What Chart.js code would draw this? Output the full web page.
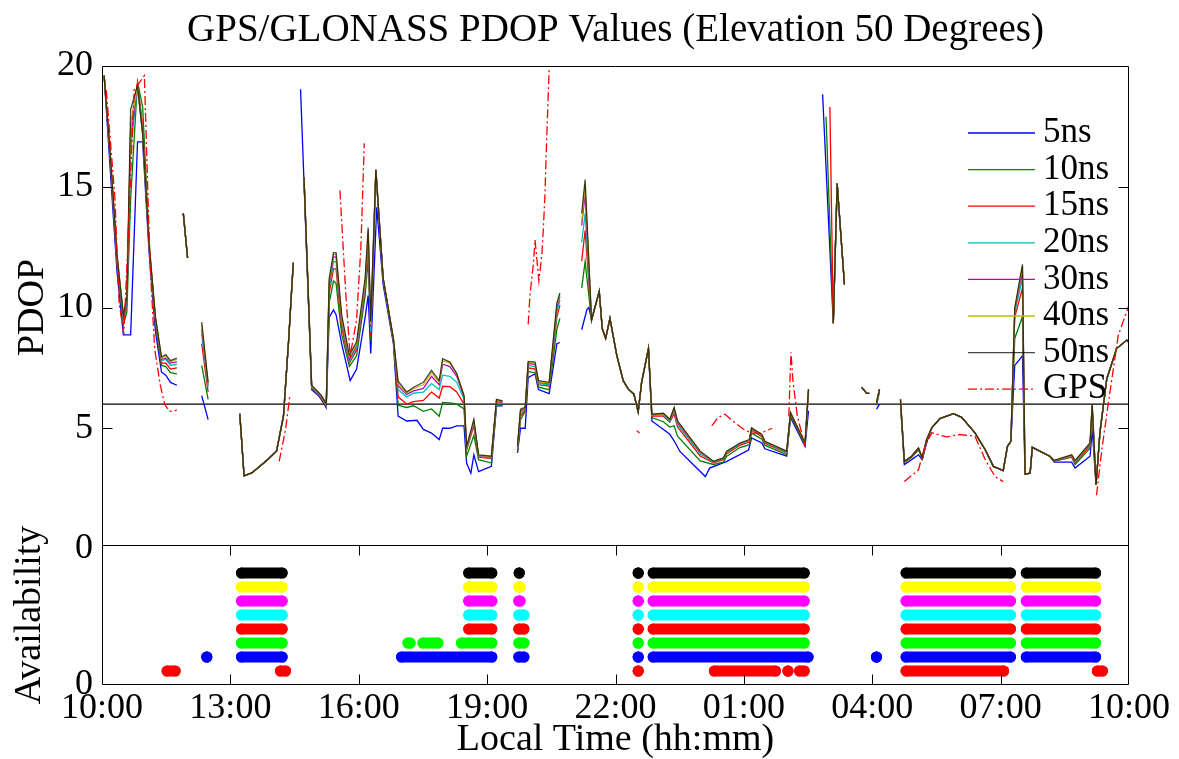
<!DOCTYPE html>
<html>
<head>
<meta charset="utf-8">
<script src="https://cdn.jsdelivr.net/npm/chart.js@4.4.1/dist/chart.umd.min.js"></script>
<style>
  html, body { margin: 0; padding: 0; background: #fff; }
  #wrap { position: relative; width: 1179px; height: 759px; }
  canvas { position: absolute; left: 0; top: 0; }
</style>
</head>
<body>
<div id="wrap">
  <canvas id="pdop" width="1179" height="759"></canvas>
  <canvas id="avail" width="1179" height="759"></canvas>
</div>
<script>
// x = heures depuis 10:00 (0..24)
const timeLabels = ['10:00', '13:00', '16:00', '19:00', '22:00', '01:00', '04:00', '07:00', '10:00'];
const seriesNames = ['5ns', '10ns', '15ns', '20ns', '30ns', '40ns', '50ns', 'GPS'];
const lineColors = ['#0000ff', '#008000', '#ff0000', '#00bfbf', '#bf00bf', '#bfbf00', 'rgba(0,0,0,0.72)', '#ff0000'];
const threshold = [[0, 6], [24, 6]];

// --- PDOP : morceaux de courbes ---
const X1 = [0.05, 0.2, 0.35, 0.5, 0.58, 0.67, 0.83, 0.95, 1.1, 1.25, 1.39, 1.49, 1.6, 1.75];
const y1_50 = [19.6, 16.2, 12.2, 9.7, 10.4, 18.2, 19.2, 17.2, 12.6, 9.6, 7.95, 8.05, 7.8, 7.9];
const y1_40 = [19.6, 16.2, 12.2, 9.7, 10.4, 17.5, 19.2, 17.2, 12.6, 9.6, 7.9, 8.0, 7.75, 7.85];
const y1_30 = [19.6, 16.1, 12.1, 9.6, 10.3, 17.0, 19.2, 17.2, 12.5, 9.5, 7.85, 7.9, 7.7, 7.75];
const y1_20 = [19.6, 16.1, 12.0, 9.5, 10.2, 16.5, 19.2, 17.2, 12.5, 9.5, 7.8, 7.85, 7.6, 7.65];
const y1_15 = [19.6, 16.0, 11.9, 9.4, 10.1, 17.5, 19.3, 17.5, 12.5, 9.4, 7.7, 7.7, 7.45, 7.5];
const y1_10 = [19.6, 16.0, 11.8, 9.3, 9.8, 14.5, 19.35, 18.3, 12.8, 9.3, 7.6, 7.55, 7.3, 7.25];
const y1_5 = [19.6, 15.5, 11.5, 8.87, 8.87, 8.87, 16.86, 16.86, 12.3, 9.0, 7.33, 7.2, 6.9, 6.78];

const segB = [[1.9, 13.9], [2.0, 12.05]];

const X3 = [2.33, 2.48];
const y3_50 = [9.4, 6.9], y3_40 = [9.3, 6.85], y3_30 = [9.1, 6.8], y3_20 = [8.9, 6.7];
const y3_15 = [8.5, 6.5], y3_10 = [7.6, 6.2], y3_5 = [6.35, 5.36];

const segD = [[3.22, 5.6], [3.32, 3.03], [3.5, 3.15], [3.69, 3.43], [3.9, 3.75], [4.08, 4.06], [4.24, 5.5], [4.36, 8.6], [4.47, 11.85]];

const X5 = [4.72, 4.9, 5.06, 5.15, 5.24, 5.31, 5.41, 5.47, 5.6, 5.78, 5.95, 6.15, 6.22, 6.28, 6.4, 6.57, 6.81, 6.92, 7.12, 7.28, 7.51, 7.7, 7.88, 7.96, 8.13, 8.29, 8.46, 8.52, 8.69, 8.8, 9.1, 9.22, 9.36];
const y5_50 = [15.4, 6.77, 6.49, 6.3, 6.0, 11.2, 12.27, 12.27, 9.7, 8.03, 8.58, 11.23, 13.3, 9.4, 15.7, 11.23, 8.7, 6.95, 6.5, 6.7, 6.9, 7.4, 6.97, 7.88, 7.74, 7.27, 6.35, 4.25, 5.37, 3.9, 3.84, 6.2, 6.13];
const y5_40 = [15.4, 6.75, 6.47, 6.28, 5.98, 11.1, 12.2, 12.2, 9.6, 7.95, 8.5, 11.1, 13.2, 9.3, 15.7, 11.2, 8.7, 6.85, 6.45, 6.65, 6.8, 7.3, 6.9, 7.8, 7.7, 7.25, 6.35, 4.22, 5.3, 3.88, 3.82, 6.18, 6.11];
const y5_30 = [15.4, 6.73, 6.45, 6.26, 5.96, 11.0, 12.1, 12.1, 9.5, 7.85, 8.45, 11.0, 13.0, 9.2, 15.7, 11.2, 8.68, 6.75, 6.4, 6.55, 6.65, 7.15, 6.8, 7.65, 7.55, 7.15, 6.3, 4.2, 5.25, 3.86, 3.8, 6.16, 6.1];
const y5_20 = [15.4, 6.7, 6.43, 6.24, 5.94, 10.8, 11.9, 11.9, 9.4, 7.75, 8.35, 10.9, 12.8, 9.0, 15.7, 11.2, 8.66, 6.6, 6.3, 6.45, 6.5, 6.85, 6.6, 7.2, 7.15, 6.9, 6.2, 4.15, 5.2, 3.83, 3.78, 6.14, 6.08];
const y5_15 = [15.4, 6.68, 6.4, 6.2, 5.92, 10.6, 11.6, 11.6, 9.2, 7.7, 8.25, 10.8, 12.6, 8.8, 15.7, 11.2, 8.64, 6.3, 6.0, 6.1, 6.15, 6.5, 6.25, 6.74, 6.72, 6.5, 6.0, 4.1, 5.1, 3.8, 3.75, 6.1, 6.05];
const y5_10 = [15.4, 6.65, 6.37, 6.17, 5.9, 10.2, 11.1, 11.0, 8.9, 7.56, 8.0, 10.5, 12.0, 8.6, 15.6, 11.15, 8.6, 5.95, 5.86, 5.93, 5.7, 5.8, 5.5, 6.07, 6.05, 6.0, 5.8, 3.84, 4.7, 3.7, 3.56, 6.0, 5.95];
const seg5_5 = [[4.64, 19.04], [4.9, 6.6], [5.06, 6.35], [5.15, 6.12], [5.24, 5.85], [5.31, 9.6], [5.41, 9.9], [5.47, 9.7], [5.6, 8.5], [5.8, 6.97], [5.95, 7.45], [6.15, 9.6], [6.22, 10.5], [6.28, 8.1], [6.42, 14.15], [6.57, 10.96], [6.81, 8.5], [6.92, 5.5], [7.12, 5.3], [7.36, 5.33], [7.51, 4.95], [7.7, 4.8], [7.88, 4.53], [7.96, 5.0], [8.13, 5.0], [8.29, 5.1], [8.46, 5.1], [8.52, 3.56], [8.62, 3.14], [8.69, 3.9], [8.8, 3.2], [9.1, 3.42], [9.22, 5.93], [9.36, 5.93]];

const X7 = [9.71, 9.78, 9.89, 9.96, 10.12, 10.2, 10.45, 10.63, 10.7];
const y7_50 = [4.27, 5.79, 5.86, 7.77, 7.74, 6.97, 6.9, 10.18, 10.6];
const y7_40 = [4.25, 5.75, 5.85, 7.72, 7.7, 6.93, 6.87, 10.1, 10.55];
const y7_30 = [4.2, 5.7, 5.83, 7.68, 7.65, 6.9, 6.84, 10.0, 10.45];
const y7_20 = [4.15, 5.6, 5.8, 7.6, 7.55, 6.85, 6.8, 9.8, 10.3];
const y7_15 = [4.1, 5.5, 5.75, 7.5, 7.45, 6.8, 6.75, 9.6, 10.1];
const y7_10 = [4.05, 5.35, 5.7, 7.35, 7.3, 6.7, 6.6, 9.1, 9.55];
const y7_5 = [3.98, 5.0, 5.0, 7.11, 7.25, 6.6, 6.43, 8.5, 8.55];

const X8h = [11.21, 11.29];
const y8h_50 = [13.9, 15.3], y8h_40 = [13.6, 15.1], y8h_30 = [13.4, 14.7], y8h_20 = [12.7, 13.9];
const y8h_15 = [11.92, 13.2], y8h_10 = [10.8, 11.9];
const seg8h_5 = [[11.21, 9.08], [11.33, 9.9], [11.38, 10.0]];
const X8c = [11.44, 11.62, 11.69, 11.77, 11.87, 12.03, 12.18, 12.3, 12.43, 12.53, 12.61, 12.77];
const y8c = [9.48, 10.67, 9.13, 8.72, 9.55, 8.02, 6.97, 6.62, 6.41, 5.68, 6.9, 8.3];
const X8t = [12.85, 13.12, 13.27, 13.37, 13.45, 13.98, 14.29, 14.52, 14.6, 14.91, 15.13, 15.18, 15.42, 15.49, 16.0, 16.09, 16.43, 16.51];
const y8t_50 = [5.58, 5.62, 5.37, 5.86, 5.3, 4.05, 3.63, 3.77, 4.05, 4.39, 4.53, 5.02, 4.74, 4.46, 4.05, 5.65, 4.39, 6.62];
const y8t_40 = [5.57, 5.6, 5.35, 5.83, 5.27, 4.02, 3.62, 3.76, 4.04, 4.38, 4.52, 5.01, 4.73, 4.45, 4.04, 5.65, 4.39, 6.61];
const y8t_30 = [5.56, 5.59, 5.33, 5.8, 5.22, 3.99, 3.61, 3.75, 4.03, 4.37, 4.51, 5.0, 4.72, 4.44, 4.03, 5.64, 4.38, 6.6];
const y8t_20 = [5.54, 5.56, 5.3, 5.72, 5.15, 3.93, 3.6, 3.73, 4.0, 4.35, 4.48, 4.97, 4.7, 4.42, 4.0, 5.62, 4.37, 6.58];
const y8t_15 = [5.5, 5.5, 5.25, 5.6, 5.05, 3.85, 3.57, 3.7, 3.95, 4.3, 4.43, 4.92, 4.65, 4.38, 3.97, 5.6, 4.35, 6.55];
const y8t_10 = [5.44, 5.27, 5.05, 5.1, 4.67, 3.65, 3.5, 3.6, 3.84, 4.2, 4.32, 4.8, 4.55, 4.3, 3.9, 5.55, 4.3, 6.5];
const seg8t_5 = [[12.85, 5.3], [13.12, 4.95], [13.27, 4.75], [13.4, 4.39], [13.5, 4.05], [14.1, 3.0], [14.2, 3.35], [14.6, 3.63], [15.11, 4.1], [15.18, 4.6], [15.42, 4.39], [15.49, 4.15], [16.0, 3.85], [16.09, 5.45], [16.43, 4.25], [16.51, 5.72]];

const segI = [[17.09, 9.35], [17.18, 15.13], [17.35, 10.95]];
const segJ = [[17.75, 6.7], [17.87, 6.44], [17.93, 6.44]];
const seg10b = [[18.1, 6.06], [18.17, 6.62]];

const X11h = [18.66, 18.75, 18.92, 19.08, 19.17, 19.27];
const y11h_50 = [6.2, 3.63, 3.84, 4.18, 3.77, 4.53];
const y11h_15 = [6.15, 3.6, 3.82, 4.15, 3.75, 4.5];
const y11h_10 = [6.1, 3.58, 3.8, 4.1, 3.74, 4.5];
const y11h_5 = [6.0, 3.5, 3.7, 3.9, 3.7, 4.4];
const seg11a = [[19.39, 5.02], [19.58, 5.4], [19.9, 5.6], [20.09, 5.45], [20.4, 4.81], [20.64, 4.11], [20.83, 3.42], [21.06, 3.25], [21.16, 4.25], [21.24, 4.46]];
const X11p = [21.33, 21.51];
const y11p_50 = [9.98, 11.79], y11p_40 = [9.95, 11.7], y11p_30 = [9.9, 11.5], y11p_20 = [9.8, 11.2];
const y11p_15 = [9.6, 10.8], y11p_10 = [8.72, 9.62], y11p_5 = [7.6, 8.0];
const seg11b = [[21.57, 3.1], [21.69, 3.14], [21.74, 4.21], [22.15, 3.84]];
const X11m = [22.25, 22.66, 22.74, 23.09, 23.14];
const y11m_50 = [3.67, 3.9, 3.67, 4.39, 6.0];
const y11m_40 = [3.67, 3.88, 3.65, 4.38, 5.98];
const y11m_30 = [3.66, 3.86, 3.63, 4.36, 5.95];
const y11m_20 = [3.66, 3.84, 3.6, 4.33, 5.9];
const y11m_15 = [3.65, 3.82, 3.57, 4.28, 5.8];
const y11m_10 = [3.63, 3.8, 3.5, 4.18, 5.65];
const y11m_5 = [3.6, 3.6, 3.35, 3.84, 4.95];
const seg11c = [[23.23, 2.65], [23.32, 4.81], [23.48, 7.04], [23.71, 8.3], [23.95, 8.65], [24.0, 8.55]];

const gps = [
  [[0.1, 19.0], [0.3, 14.6], [0.4, 10.2], [0.51, 8.9], [0.6, 12.4], [0.75, 19.0], [0.99, 19.6], [1.12, 11.9], [1.23, 8.3], [1.36, 6.8], [1.47, 5.97], [1.58, 5.7], [1.75, 5.75]],
  [[4.14, 3.63], [4.29, 4.95], [4.39, 6.35]],
  [[5.56, 14.85], [5.7, 10.5], [5.8, 8.0], [5.95, 9.5], [6.05, 12.5], [6.13, 16.8]],
  [[9.96, 9.3], [10.0, 10.5], [10.08, 11.8], [10.12, 12.8], [10.21, 11.1], [10.28, 12.2], [10.32, 13.5], [10.35, 14.6], [10.39, 16.9], [10.45, 19.9]],
  [[12.5, 4.9], [12.56, 4.8]],
  [[14.25, 5.1], [14.4, 5.45], [14.56, 5.58], [14.74, 5.3], [15.0, 4.95], [15.18, 4.8], [15.4, 4.8], [15.66, 5.0]],
  [[16.05, 5.5], [16.1, 8.15], [16.15, 6.9], [16.25, 5.5], [16.43, 4.25]],
  [[18.75, 2.79], [19.08, 3.28], [19.23, 4.25], [19.39, 4.81], [19.74, 4.64], [20.04, 4.74], [20.4, 4.67], [20.64, 3.7], [20.87, 3.0], [21.06, 2.79]],
  [[23.24, 2.23], [23.37, 4.18], [23.53, 6.2], [23.75, 8.85], [24.0, 10.1]]
];

// --- Disponibilité : intervalles [début, fin] en heures ---
const availRows = [1, 2, 3, 4, 5, 6, 7, 8];
const availColors = ['#ff0000', '#0000ff', '#00ff00', '#ff0000', '#00ffff', '#ff00ff', '#ffff00', '#000000'];
const availGPS = [[1.52, 1.71], [4.17, 4.29], [12.53, 12.53], [14.31, 15.74], [16.03, 16.03], [16.3, 16.41], [18.79, 21.07], [23.26, 23.38]];
const avail5 = [[2.45, 2.45], [3.26, 4.21], [7.0, 9.11], [9.74, 9.86], [12.53, 12.53], [12.88, 16.5], [18.1, 18.1], [18.79, 21.23], [21.6, 23.22]];
const avail10 = [[3.26, 4.21], [7.15, 7.2], [7.5, 7.85], [8.4, 9.11], [9.74, 9.86], [12.53, 12.53], [12.88, 16.41], [18.79, 21.23], [21.6, 23.22]];
const avail15 = [[3.26, 4.21], [8.57, 9.11], [9.74, 9.86], [12.53, 12.53], [12.88, 16.41], [18.79, 21.23], [21.6, 23.22]];
const avail20 = [[3.26, 4.21], [8.57, 9.11], [9.74, 9.86], [12.53, 12.53], [12.88, 16.41], [18.79, 21.23], [21.6, 23.22]];
const avail30 = [[3.26, 4.21], [8.57, 9.11], [9.74, 9.77], [12.53, 12.53], [12.88, 16.41], [18.79, 21.23], [21.6, 23.22]];
const avail40 = [[3.26, 4.21], [8.57, 9.11], [9.74, 9.77], [12.53, 12.53], [12.88, 16.41], [18.79, 21.23], [21.6, 23.22]];
const avail50 = [[3.26, 4.21], [8.57, 9.11], [9.75, 9.75], [12.53, 12.53], [12.88, 16.41], [18.79, 21.23], [21.6, 23.22]];

const zip = (xs, ys) => xs.map((x, i) => [x, ys[i]]);

const ns50 = [zip(X1, y1_50), segB, zip(X3, y3_50), segD, zip(X5, y5_50), zip(X7, y7_50),
  [...zip(X8h, y8h_50), ...zip(X8c, y8c), ...zip(X8t, y8t_50)], segI, segJ, seg10b,
  [...zip(X11h, y11h_50), ...seg11a, ...zip(X11p, y11p_50), ...seg11b, ...zip(X11m, y11m_50), ...seg11c]];
const ns40 = [zip(X1, y1_40), segB, zip(X3, y3_40), segD, zip(X5, y5_40), zip(X7, y7_40),
  [...zip(X8h, y8h_40), ...zip(X8c, y8c), ...zip(X8t, y8t_40)], segI, segJ, seg10b,
  [...zip(X11h, y11h_50), ...seg11a, ...zip(X11p, y11p_40), ...seg11b, ...zip(X11m, y11m_40), ...seg11c]];
const ns30 = [zip(X1, y1_30), segB, zip(X3, y3_30), segD, zip(X5, y5_30), zip(X7, y7_30),
  [...zip(X8h, y8h_30), ...zip(X8c, y8c), ...zip(X8t, y8t_30)], segI, segJ, seg10b,
  [...zip(X11h, y11h_50), ...seg11a, ...zip(X11p, y11p_30), ...seg11b, ...zip(X11m, y11m_30), ...seg11c]];
const ns20 = [zip(X1, y1_20), segB, zip(X3, y3_20), segD, zip(X5, y5_20), zip(X7, y7_20),
  [...zip(X8h, y8h_20), ...zip(X8c, y8c), ...zip(X8t, y8t_20)], segI, segJ, seg10b,
  [...zip(X11h, y11h_50), ...seg11a, ...zip(X11p, y11p_20), ...seg11b, ...zip(X11m, y11m_20), ...seg11c]];
const ns15 = [zip(X1, y1_15), segB, zip(X3, y3_15), segD, zip(X5, y5_15), zip(X7, y7_15),
  [...zip(X8h, y8h_15), ...zip(X8c, y8c), ...zip(X8t, y8t_15)], [[17.01, 18.3], ...segI], segJ, seg10b,
  [...zip(X11h, y11h_15), ...seg11a, ...zip(X11p, y11p_15), ...seg11b, ...zip(X11m, y11m_15), ...seg11c]];
const ns10 = [zip(X1, y1_10), segB, zip(X3, y3_10), segD, zip(X5, y5_10), zip(X7, y7_10),
  [...zip(X8h, y8h_10), ...zip(X8c, y8c), ...zip(X8t, y8t_10)], [[16.92, 17.9], ...segI], segJ, [[18.1, 5.95], [18.17, 6.5]],
  [...zip(X11h, y11h_10), ...seg11a, ...zip(X11p, y11p_10), ...seg11b, ...zip(X11m, y11m_10), ...seg11c]];
const ns5 = [zip(X1, y1_5), segB, zip(X3, y3_5), segD, seg5_5, zip(X7, y7_5),
  [...seg8h_5, ...zip(X8c, y8c), ...seg8t_5], [[16.84, 18.83], ...segI], segJ, [[18.1, 5.79], [18.17, 6.0]],
  [...zip(X11h, y11h_5), ...seg11a, ...zip(X11p, y11p_5), ...seg11b, ...zip(X11m, y11m_5), ...seg11c]];

const pdopSeries = [ns5, ns10, ns15, ns20, ns30, ns40, ns50, gps];
const availSeries = [availGPS, avail5, avail10, avail15, avail20, avail30, avail40, avail50];

// morceaux -> points, avec un trou (y null) entre deux morceaux
function toPoints(segments) {
  const pts = [];
  segments.forEach((seg, i) => {
    if (i > 0) pts.push({ x: seg[0][0], y: null });
    seg.forEach(p => pts.push({ x: p[0], y: p[1] }));
  });
  return pts;
}
function intervalsToPoints(intervals, row) {
  const pts = [];
  intervals.forEach(([a, b]) => {
    pts.push({ x: a, y: row }, { x: b, y: row }, { x: b, y: null });
  });
  return pts;
}

Chart.defaults.font.family = "'Liberation Serif', 'Times New Roman', serif";
Chart.defaults.color = '#000';

// cadre + graduations vers l'intérieur
const framePlugin = {
  id: 'frame',
  afterDatasetsDraw(chart, args, opts) {
    const { ctx, chartArea: a, scales } = chart;
    const L = Math.round(a.left) + 0.5, R = Math.round(a.right) - 0.5;
    const T = Math.round(a.top) + 0.5, B = Math.round(a.bottom) - 0.5;
    ctx.save();
    ctx.strokeStyle = '#000';
    ctx.lineWidth = 1;
    ctx.beginPath();
    ctx.moveTo(L, B); ctx.lineTo(L, T); ctx.lineTo(R, T); ctx.lineTo(R, B);
    if (opts.closed) ctx.lineTo(L, B);
    if (opts.yTicks) {
      const s = scales.y;
      s.ticks.forEach(t => {
        if (t.value <= s.min || t.value >= s.max) return;
        const y = Math.round(s.getPixelForValue(t.value)) + 0.5;
        ctx.moveTo(L, y); ctx.lineTo(L + 10, y);
        ctx.moveTo(R, y); ctx.lineTo(R - 10, y);
      });
    }
    if (opts.xTicks) {
      const s = scales.x;
      s.ticks.forEach(t => {
        if (t.value <= s.min || t.value >= s.max) return;
        const x = Math.round(s.getPixelForValue(t.value)) + 0.5;
        ctx.moveTo(x, T); ctx.lineTo(x, T + 10);
        ctx.moveTo(x, B); ctx.lineTo(x, B - 10);
      });
    }
    ctx.stroke();
    ctx.restore();
  }
};

// légende dans la zone du graphique, sans cadre
const legendPlugin = {
  id: 'insideLegend',
  afterDatasetsDraw(chart) {
    const { ctx, chartArea: a } = chart;
    ctx.save();
    ctx.font = "35px 'Liberation Serif'";
    ctx.textBaseline = 'middle';
    ctx.fillStyle = '#000';
    chart.data.datasets.filter(d => seriesNames.includes(d.label)).forEach((d, i) => {
      const y = a.top + 67 + i * 36.6;
      ctx.strokeStyle = d.borderColor;
      ctx.lineWidth = d.borderWidth;
      ctx.setLineDash(d.borderDash || []);
      ctx.beginPath();
      ctx.moveTo(a.right - 161, y);
      ctx.lineTo(a.right - 94, y);
      ctx.stroke();
      ctx.fillText(d.label, a.right - 86, y);
    });
    ctx.restore();
  }
};

const pdopDatasets = pdopSeries.map((s, i) => ({
  label: seriesNames[i],
  data: toPoints(s),
  borderColor: lineColors[i],
  borderWidth: 1.3,
  borderDash: seriesNames[i] === 'GPS' ? [9, 3, 2, 3] : [],
  pointRadius: 0,
  spanGaps: false,
  order: seriesNames[i] === 'GPS' ? 0 : 7 - i
}));
pdopDatasets.push({
  label: 'seuil',
  data: threshold.map(p => ({ x: p[0], y: p[1] })),
  borderColor: '#000',
  borderWidth: 1.2,
  pointRadius: 0,
  order: 9
});

new Chart(document.getElementById('pdop'), {
  type: 'line',
  data: { datasets: pdopDatasets },
  options: {
    responsive: false,
    animation: false,
    devicePixelRatio: 1,
    layout: { padding: { left: 0, right: 50, top: 0, bottom: 210 } },
    plugins: {
      legend: { display: false },
      tooltip: { enabled: false },
      title: {
        display: true,
        fullSize: false,
        text: 'GPS/GLONASS PDOP Values (Elevation 50 Degrees)',
        font: { size: 39, weight: 'normal', lineHeight: 1.2 },
        padding: { top: 7, bottom: 12.2 }
      },
      frame: { closed: false, yTicks: true }
    },
    scales: {
      x: { type: 'linear', min: 0, max: 24, display: false },
      y: {
        min: 0, max: 20,
        ticks: { stepSize: 5, font: { size: 36 }, padding: 9 },
        grid: { display: false, drawTicks: false },
        border: { display: false },
        title: { display: true, text: 'PDOP', font: { size: 38 }, padding: { top: 10, bottom: 0 } },
        afterFit: s => { s.width = 102; }
      }
    }
  },
  plugins: [framePlugin, legendPlugin]
});

new Chart(document.getElementById('avail'), {
  type: 'line',
  data: {
    datasets: availSeries.map((s, i) => ({
      label: 'avail ' + seriesNames[i === 0 ? 7 : i - 1],
      data: intervalsToPoints(s, availRows[i]),
      borderColor: availColors[i],
      backgroundColor: availColors[i],
      borderWidth: 11,
      borderCapStyle: 'round',
      pointRadius: 5.5,
      pointBorderWidth: 0,
      pointBackgroundColor: availColors[i],
      spanGaps: false
    }))
  },
  options: {
    responsive: false,
    animation: false,
    devicePixelRatio: 1,
    layout: { padding: { left: 0, right: 50, top: 545, bottom: 0 } },
    plugins: {
      legend: { display: false },
      tooltip: { enabled: false },
      frame: { closed: true, xTicks: true }
    },
    scales: {
      x: {
        type: 'linear', min: 0, max: 24,
        ticks: { stepSize: 3, autoSkip: false, maxRotation: 0, font: { size: 36 }, padding: 2,
          callback: (v, i) => timeLabels[i] },
        grid: { display: false, drawTicks: false },
        border: { display: false },
        title: { display: true, text: 'Local Time (hh:mm)', font: { size: 38, lineHeight: 1 }, padding: { top: 0, bottom: 0 } },
        afterFit: s => { s.height = 74; }
      },
      y: {
        min: 0, max: 10,
        ticks: { stepSize: 10, font: { size: 36 }, padding: 9, callback: v => (v === 0 ? '0' : '') },
        grid: { display: false, drawTicks: false },
        border: { display: false },
        title: { display: true, text: 'Availability', font: { size: 38 }, padding: { top: 7, bottom: 0 } },
        afterFit: s => { s.width = 102; }
      }
    }
  },
  plugins: [framePlugin]
});
</script>
</body>
</html>
